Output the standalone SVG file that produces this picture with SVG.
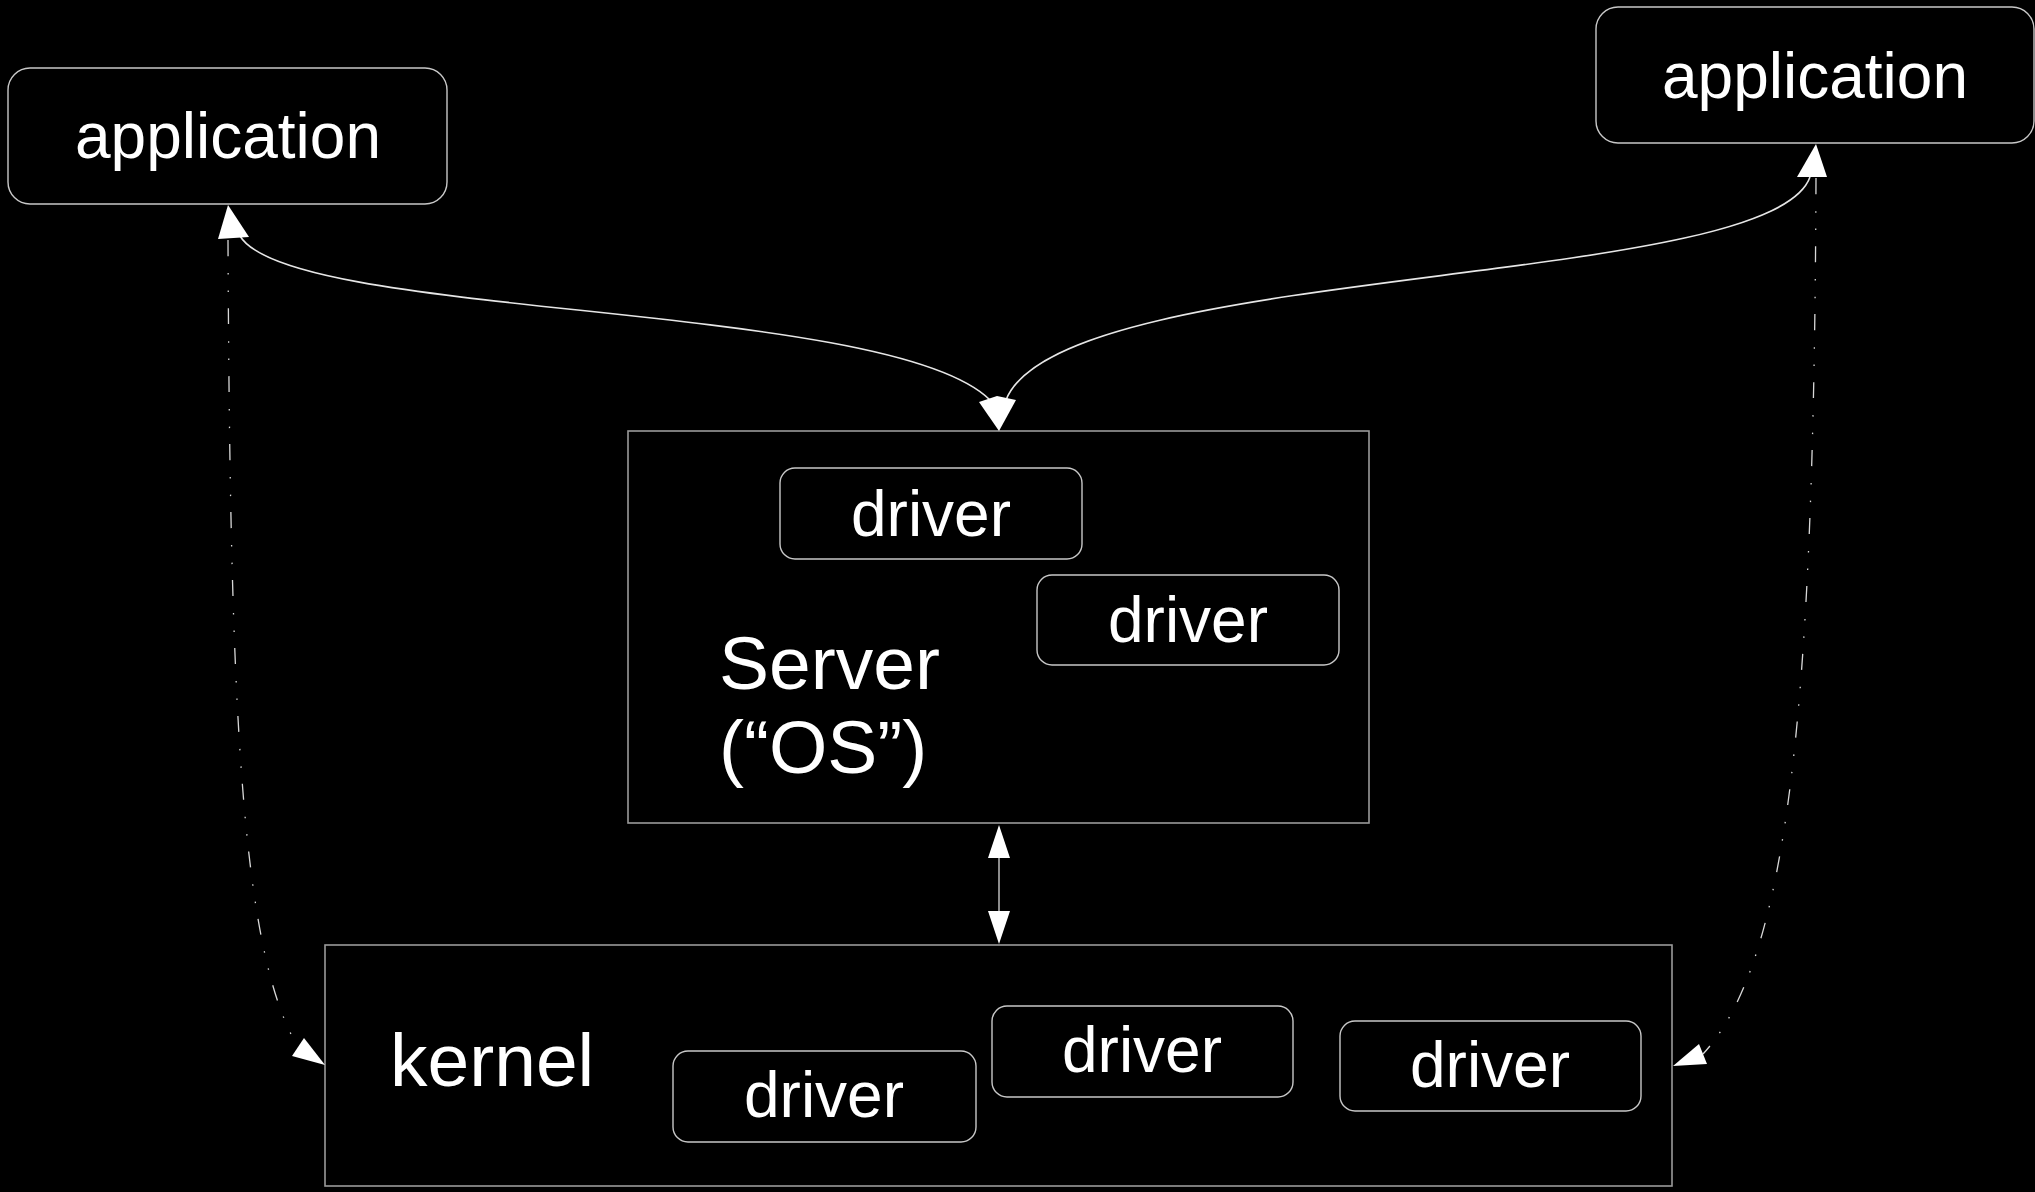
<svg xmlns="http://www.w3.org/2000/svg" width="2035" height="1192" viewBox="0 0 2035 1192">
  <style>
    .bg { fill: #000; }
    .frame { fill: #000; stroke: #9a9a9a; stroke-width: 1.6; }
    .pill { fill: #000; stroke: #c8c8c8; stroke-width: 1.4; }
    .label { fill: #fff; font-family: "Liberation Sans", Arial, sans-serif; font-size: 64px; }
    .big { font-size: 75px; }
    .mid { text-anchor: middle; }
    .curve { fill: none; stroke: #e6e6e6; stroke-width: 1.6; }
    .dashed { fill: none; stroke: #d8d8d8; stroke-width: 1.3; stroke-dasharray: 16 17 1.5 16 1.5 16; }
    .stem { fill: none; stroke: #8c8c8c; stroke-width: 2; }
    .head { fill: #fff; }
  </style>

  <rect class="bg" x="0" y="0" width="2035" height="1192"/>

  <!-- user-space applications -->
  <g id="app-left">
    <rect class="pill" x="8" y="68" width="439" height="136" rx="22"/>
    <text class="label mid" x="228" y="158">application</text>
  </g>
  <g id="app-right">
    <rect class="pill" x="1596" y="7" width="438" height="136" rx="22"/>
    <text class="label mid" x="1815" y="98">application</text>
  </g>

  <!-- server process with its drivers -->
  <g id="server">
    <rect class="frame" x="628" y="431" width="741" height="392"/>
    <text class="label big" x="719" y="689">Server</text>
    <text class="label big" x="719" y="773">(“OS”)</text>
  </g>
  <g id="server-driver-1">
    <rect class="pill" x="780" y="468" width="302" height="91" rx="15"/>
    <text class="label mid" x="931" y="536">driver</text>
  </g>
  <g id="server-driver-2">
    <rect class="pill" x="1037" y="575" width="302" height="90" rx="15"/>
    <text class="label mid" x="1188" y="642">driver</text>
  </g>

  <!-- kernel with its drivers -->
  <g id="kernel">
    <rect class="frame" x="325" y="945" width="1347" height="241"/>
    <text class="label big" x="390" y="1086">kernel</text>
  </g>
  <g id="kernel-driver-1">
    <rect class="pill" x="673" y="1051" width="303" height="91" rx="15"/>
    <text class="label mid" x="824" y="1117">driver</text>
  </g>
  <g id="kernel-driver-2">
    <rect class="pill" x="992" y="1006" width="301" height="91" rx="15"/>
    <text class="label mid" x="1142" y="1072">driver</text>
  </g>
  <g id="kernel-driver-3">
    <rect class="pill" x="1340" y="1021" width="301" height="90" rx="15"/>
    <text class="label mid" x="1490" y="1087">driver</text>
  </g>

  <!-- connectors -->
  <g id="connectors">
    <!-- application <-> server -->
    <path class="curve" d="M240,236 C290,320 890,300 990,400"/>
    <path class="curve" d="M1810,177 C1770,290 1060,262 1006,400"/>
    <polygon class="head" points="228,205 249,237 218,239"/>
    <polygon class="head" points="1816,144 1827,177 1797,177"/>
    <polygon class="head" points="979,402 997,396 1016,400 999,431"/>

    <!-- server <-> kernel -->
    <line class="stem" x1="999" y1="856" x2="999" y2="912"/>
    <polygon class="head" points="999,825 1010,858 988,858"/>
    <polygon class="head" points="999,944 1010,911 988,911"/>

    <!-- application <-> kernel (direct path) -->
    <path class="dashed" d="M228,240 C230,700 240,950 298,1047"/>
    <path class="dashed" d="M1816,178 C1814,700 1790,960 1703,1054"/>
    <polygon class="head" points="325,1065 292,1056 304,1038"/>
    <polygon class="head" points="1673,1066 1699,1044 1707,1064"/>
  </g>
</svg>
